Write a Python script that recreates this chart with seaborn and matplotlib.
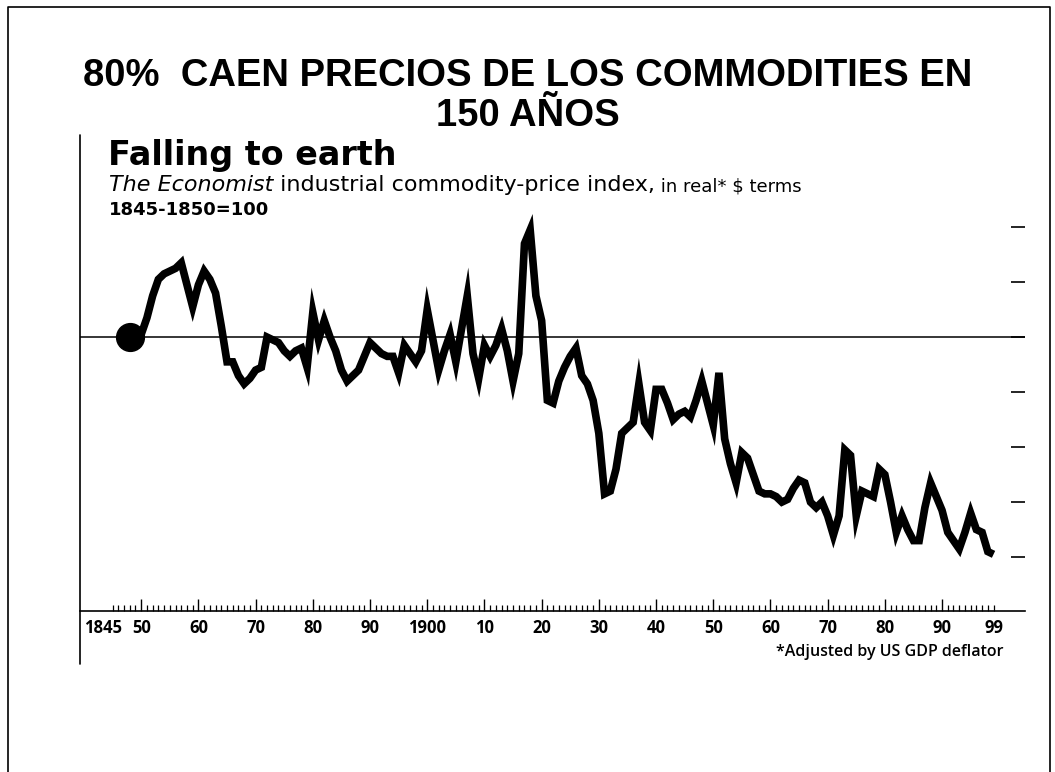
import numpy as np
import pandas as pd
import seaborn as sns
import matplotlib.pyplot as plt
from matplotlib.ticker import FixedLocator

# Economist industrial commodity-price index, real terms, 1845-1850=100
years = list(range(1848, 2000))
index_values = [
    100, 100,
    101, 107, 115, 121, 123, 124, 125, 127, 119, 111,
    119, 124, 121, 116, 104, 91, 91, 86, 83, 85,
    88, 89, 100, 99, 98, 95, 93, 95, 96, 89,
    109, 99, 106, 100, 95, 88, 84, 86, 88, 93,
    98, 96, 94, 93, 93, 87, 97, 94, 91, 95,
    110, 99, 88, 95, 101, 91, 103, 115, 94, 85,
    97, 93, 97, 103, 95, 84, 94, 134, 139, 115,
    106, 77, 76, 84, 89, 93, 96, 86, 83, 77,
    65, 43, 44, 52, 65, 67, 69, 83, 69, 66,
    81, 81, 76, 70, 72, 73, 71, 77, 84, 76,
    68, 87, 63, 54, 47, 58, 56, 50, 44, 43,
    43, 42, 40, 41, 45, 48, 47, 40, 38, 40,
    35, 28, 35, 59, 57, 35, 44, 43, 42, 52,
    50, 40, 29, 35, 30, 26, 26, 38, 47, 42,
    37, 29, 26, 23, 29, 36, 30, 29, 22, 21,
]
decade_ticks = list(range(1850, 2000, 10))
decade_labels = ['50', '60', '70', '80', '90', '1900', '10', '20', '30',
                 '40', '50', '60', '70', '80', '90']
end_ticks = [1845, 1999]
end_labels = ['1845', '99']
right_ticks = [20, 40, 60, 80, 100, 120, 140]
base_value = 100

df = pd.DataFrame({'year': years, 'index': index_values})

sns.set_style('white')
plt.rcParams['font.family'] = ['Open Sans', 'DejaVu Sans']
plt.rcParams['text.color'] = 'black'
plt.rcParams['axes.edgecolor'] = 'black'
plt.rcParams['xtick.color'] = 'black'
plt.rcParams['ytick.color'] = 'black'

W, H = 1055, 772
fig = plt.figure(figsize=(W / 100, H / 100), dpi=100)


def fx(px):
    return px / W


def fy(py):
    return 1 - py / H


# page frame (left, top, right)
fig.add_artist(plt.Line2D([fx(8), fx(8), fx(1050), fx(1050)],
                          [0, fy(7), fy(7), 0], color='black', lw=1.2))

ax = fig.add_axes([fx(80), fy(611), fx(1025) - fx(80), fy(160) - fy(611)])
sns.lineplot(data=df, x='year', y='index', ax=ax, color='black', lw=5.5,
             solid_joinstyle='miter', solid_capstyle='butt')
ax.plot(years[0], index_values[0], 'o', color='black', ms=20)
ax.axhline(base_value, color='black', lw=1.1, zorder=0)

ax.set_xlim(1839.3, 2004.5)
ax.set_ylim(0.4, 164.4)
ax.set_xlabel('')
ax.set_ylabel('')

for side in ['top', 'right', 'left']:
    ax.spines[side].set_visible(False)
ax.spines['bottom'].set_linewidth(1.2)
ax.axvline(1839.3, ymin=-0.118, ymax=1.055, color='black', lw=1.2,
           clip_on=False)

ax.xaxis.set_major_locator(FixedLocator(decade_ticks))
ax.set_xticklabels(decade_labels)
ax.xaxis.set_minor_locator(FixedLocator(list(range(1845, 2000))))
ax.tick_params(axis='x', which='major', direction='in', length=9, width=1,
               bottom=True, pad=6, labelsize=12)
ax.tick_params(axis='x', which='minor', direction='in', length=4.5, width=0.9,
               bottom=True)
for lbl in ax.get_xticklabels():
    lbl.set_fontweight('bold')

# end labels of the time axis
for year, text, dx in zip(end_ticks, end_labels, [-7, 0]):
    ax.annotate(text, xy=(year, 0), xycoords=('data', 'axes fraction'),
                xytext=(dx, -6), textcoords='offset points', ha='center',
                va='top', fontsize=12, fontweight='bold',
                annotation_clip=False)

ax.set_yticks(right_ticks)
ax.tick_params(axis='y', left=False, right=True, direction='in', length=10,
               width=1.2, labelleft=False, labelright=False)

# titles
fig.text(0.5, fy(86), '80%  CAEN PRECIOS DE LOS COMMODITIES EN', ha='center',
         va='baseline', fontsize=27.5, fontweight='bold',
         family='Liberation Sans')
fig.text(0.5, fy(126), '150 AÑOS', ha='center', va='baseline', fontsize=27.5,
         fontweight='bold', family='Liberation Sans')

fig.text(fx(108), fy(165), 'Falling to earth', ha='left', va='baseline',
         fontsize=24, fontweight='bold', family='DejaVu Sans')
t1 = fig.text(fx(109), fy(191), 'The Economist', ha='left', va='baseline',
              fontsize=16, style='italic', family='DejaVu Sans')
t2 = ax.annotate(' industrial commodity-price index,', xy=(1, 0),
                 xycoords=t1, va='bottom', ha='left', fontsize=16,
                 family='DejaVu Sans', annotation_clip=False)
ax.annotate(' in real* $ terms', xy=(1, 0), xycoords=t2, va='bottom',
            ha='left', fontsize=13, family='DejaVu Sans',
            annotation_clip=False)
fig.text(fx(109), fy(215), '1845-1850=100', ha='left', va='baseline',
         fontsize=13, fontweight='bold', family='DejaVu Sans')
fig.text(fx(1003), fy(652), '*Adjusted by US GDP deflator', ha='right',
         va='center', fontsize=11.5, fontweight='semibold')

fig.savefig('out.png', dpi=100)
